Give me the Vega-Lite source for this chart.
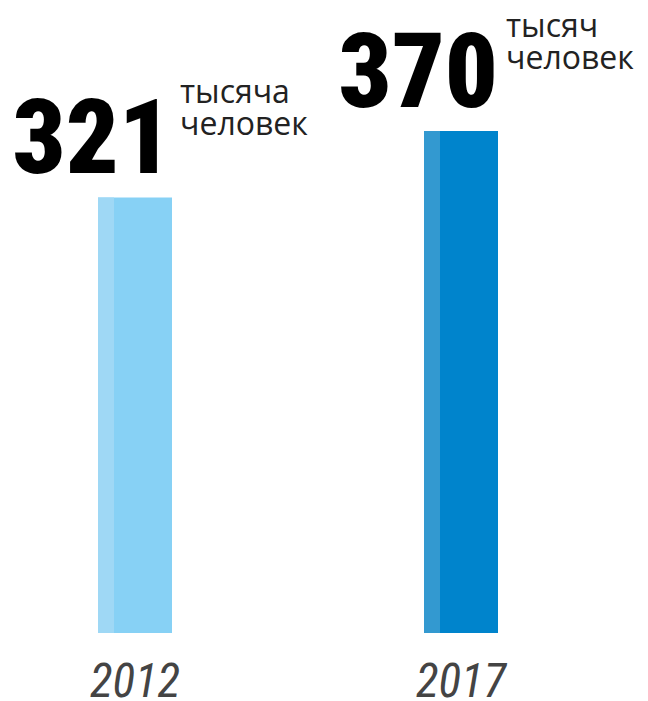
{
  "$schema": "https://vega.github.io/schema/vega-lite/v6.json",
  "width": 596,
  "height": 502,
  "autosize": {"type": "none"},
  "padding": {"top": 131, "left": 0, "right": 52, "bottom": 68},
  "background": "white",
  "config": {"view": {"stroke": null}},
  "data": {
    "values": [
      {"year": "2012", "value": 321, "unit1": "тысяча", "unit2": "человек"},
      {"year": "2017", "value": 370, "unit1": "тысяч", "unit2": "человек"}
    ]
  },
  "encoding": {
    "x": {
      "field": "year",
      "type": "nominal",
      "title": null,
      "scale": {"paddingInner": 0.773, "paddingOuter": 0.3006},
      "axis": {
        "domain": false,
        "ticks": false,
        "grid": false,
        "labelAngle": 0,
        "labelFont": "Roboto Condensed, Open Sans",
        "labelFontStyle": "italic",
        "labelFontSize": 47,
        "labelColor": "#444444",
        "labelBaseline": "alphabetic",
        "labelPadding": 63,
        "labelDx": 6
      }
    },
    "y": {
      "field": "value",
      "type": "quantitative",
      "scale": {"domain": [0, 370]},
      "axis": null
    }
  },
  "layer": [
    {
      "mark": {"type": "bar", "width": {"band": 1}},
      "encoding": {
        "color": {
          "field": "year",
          "type": "nominal",
          "scale": {"domain": ["2012", "2017"], "range": ["#87d1f5", "#0084cc"]},
          "legend": null
        }
      }
    },
    {
      "mark": {"type": "bar", "width": 16, "xOffset": -29},
      "encoding": {
        "color": {
          "condition": {"test": "datum.year == '2012'", "value": "#9fd8f5"},
          "value": "#3399d0"
        }
      }
    },
    {
      "mark": {
        "type": "text",
        "align": "right",
        "baseline": "alphabetic",
        "dx": 37,
        "dy": -24,
        "font": "Roboto Condensed, DejaVu Sans Condensed",
        "fontWeight": 900,
        "fontSize": 104,
        "color": "#000000"
      },
      "encoding": {"text": {"field": "value", "type": "quantitative"}}
    },
    {
      "mark": {
        "type": "text",
        "align": "left",
        "baseline": "alphabetic",
        "dx": 45,
        "dy": -94,
        "font": "Open Sans",
        "fontSize": 32,
        "color": "#222222"
      },
      "encoding": {"text": {"field": "unit1", "type": "nominal"}}
    },
    {
      "mark": {
        "type": "text",
        "align": "left",
        "baseline": "alphabetic",
        "dx": 45,
        "dy": -62,
        "font": "Open Sans",
        "fontSize": 32,
        "color": "#222222"
      },
      "encoding": {"text": {"field": "unit2", "type": "nominal"}}
    }
  ]
}
